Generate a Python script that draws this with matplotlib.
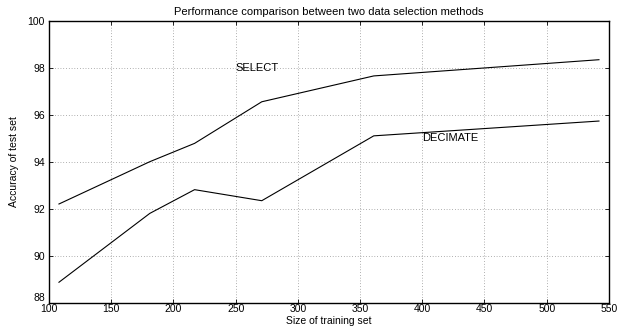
import matplotlib
matplotlib.use('Agg')
import matplotlib.pyplot as plt

# Training set sizes and accuracy of the two selection methods
train_size = [108, 181, 217, 271, 361, 542]
select_acc = [92.2, 94.0, 94.78, 96.55, 97.65, 98.34]
decimate_acc = [88.87, 91.8, 92.81, 92.34, 95.1, 95.73]

x_ticks = [100, 150, 200, 250, 300, 350, 400, 450, 500, 550]
y_ticks = [88, 90, 92, 94, 96, 98, 100]

plt.rcParams['font.family'] = ['Liberation Sans', 'DejaVu Sans']

fig = plt.figure(figsize=(6.18, 3.26), dpi=100)
ax = fig.add_axes([0.0793, 0.0715, 0.906, 0.865])

ax.plot(train_size, select_acc, color='black', linewidth=0.8)
ax.plot(train_size, decimate_acc, color='black', linewidth=0.8)

ax.text(250, 98, 'SELECT', ha='left', va='center', fontsize=8)
ax.text(400, 95, 'DECIMATE', ha='left', va='center', fontsize=8)

ax.set_xlim(100, 550)
ax.set_ylim(88, 100)
ax.set_xticks(x_ticks)
ax.set_yticks(y_ticks)
ax.tick_params(direction='in', top=True, right=True, length=3,
               labelsize=7.5, width=0.6)
ax.tick_params(axis='x', pad=1)
ax.tick_params(axis='y', pad=3)
ax.grid(True, linestyle=(0, (1, 3)), color='black', linewidth=0.5, alpha=0.6)
for sp in ax.spines.values():
    sp.set_linewidth(1.0)

# the lowest y label sits a little above its tick, like the original
ax.get_yticklabels()[0].set_verticalalignment('bottom')

ax.set_title('Performance comparison between two data selection methods',
             fontsize=8, pad=4)
ax.set_xlabel('Size of training set', fontsize=7.5)
ax.xaxis.set_label_coords(0.5, -0.046)
ax.set_ylabel('Accuracy of test set', fontsize=7.5, labelpad=6)

fig.savefig('out.png', dpi=100)
